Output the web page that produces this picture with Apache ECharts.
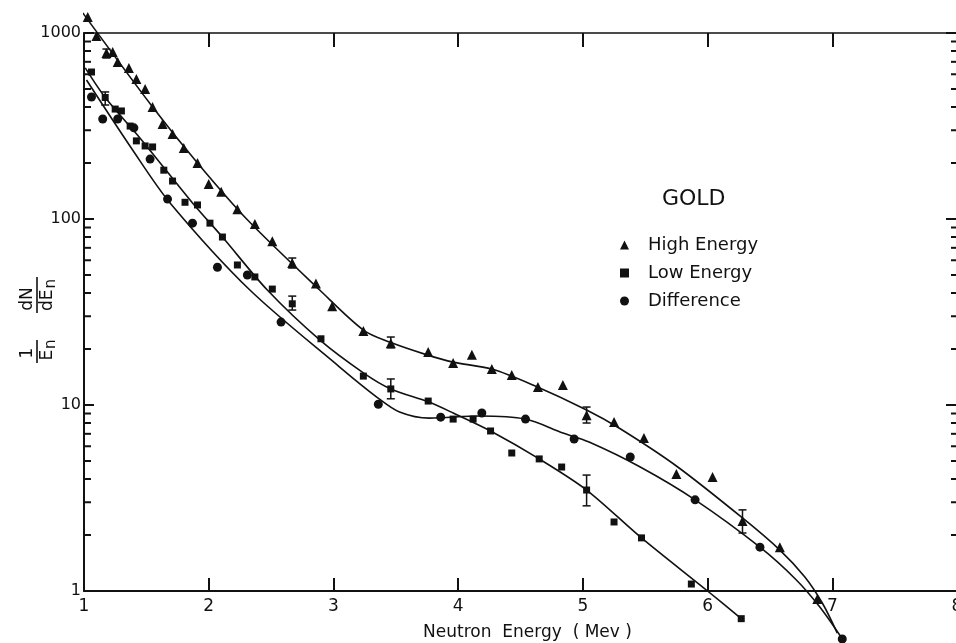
<!DOCTYPE html>
<html>
<head>
<meta charset="utf-8">
<script src="https://cdn.jsdelivr.net/npm/echarts@6/dist/echarts.min.js"></script>
<style>
html,body{margin:0;padding:0;background:#fff;}
#chart{width:956px;height:643px;}
</style>
</head>
<body>
<div id="chart"></div>
<script>
// ---- data ----
const xTicks = [1, 2, 3, 4, 5, 6, 7, 8];
const yMajorTicks = [1, 10, 100, 1000];
const yMinorTicks = [2,3,4,5,6,7,8,9,20,30,40,50,60,70,80,90,200,300,400,500,600,700,800,900];

const highEnergy = [[1.03,1219],[1.10,964],[1.18,780],[1.23,790],[1.27,698],[1.36,649],[1.42,566],[1.49,500],[1.55,400],[1.63,324],[1.71,286],[1.80,241],[1.91,200],[2.00,154],[2.10,140],[2.23,113],[2.37,94],[2.51,76],[2.67,58],[2.86,45],[2.99,34],[3.24,25],[3.46,21.5],[3.76,19.3],[3.96,16.8],[4.11,18.6],[4.27,15.6],[4.43,14.5],[4.64,12.5],[4.84,12.8],[5.03,8.8],[5.25,8.1],[5.49,6.65],[5.75,4.26],[6.04,4.1],[6.28,2.38],[6.58,1.72],[6.88,0.906]];
const lowEnergy = [[1.06,617],[1.17,450],[1.25,390],[1.30,381],[1.37,316],[1.42,263],[1.49,247],[1.55,244],[1.64,183],[1.71,160],[1.81,123],[1.91,119],[2.01,95],[2.11,80],[2.23,56.6],[2.37,48.8],[2.51,42],[2.67,35],[2.90,22.7],[3.24,14.3],[3.46,12.2],[3.76,10.5],[3.96,8.4],[4.12,8.4],[4.26,7.25],[4.43,5.52],[4.65,5.13],[4.83,4.64],[5.03,3.49],[5.25,2.35],[5.47,1.93],[5.87,1.09],[6.27,0.71]];
const difference = [[1.06,453],[1.15,345],[1.27,345],[1.40,309],[1.53,210],[1.67,128],[1.87,95],[2.07,55],[2.31,50],[2.58,27.9],[3.36,10.1],[3.86,8.6],[4.19,9.06],[4.54,8.4],[4.93,6.56],[5.38,5.25],[5.90,3.09],[6.42,1.72],[7.08,0.552]];

// error bars: [x, low, high]
const errorBars = [[1.18,734,820],[1.17,410,482],[2.67,54.5,61.7],[2.67,32.4,38.5],[3.46,20.3,23.2],[3.46,10.8,13.8],[5.03,8.0,9.75],[5.03,2.87,4.2],[6.28,2.05,2.73]];

// fitted curves
const highCurve = [[0.99,1282],[1.55,400],[1.91,200],[2.31,99],[2.89,41.5],[3.24,25.3],[3.45,21.8],[3.75,18.6],[3.96,17.0],[4.27,15.6],[4.60,12.8],[5.03,9.4],[5.29,7.52],[5.75,4.7],[6.28,2.47],[6.58,1.66],[6.78,1.19],[6.92,0.862],[7.04,0.594]];
const lowCurve = [[1.01,649],[1.17,450],[1.45,272],[1.87,122],[2.11,80],[2.47,41.5],[2.89,22.4],[3.24,14.9],[3.46,12.2],[3.76,10.4],[3.96,9.06],[4.26,7.25],[4.65,5.13],[5.03,3.49],[5.47,1.93],[6.0,1.0],[6.27,0.71]];
const diffCurve = [[1.02,559],[1.39,235],[1.69,122],[2.33,41.5],[3.05,16],[3.35,11.0],[3.53,9.17],[3.77,8.5],[4.17,8.73],[4.54,8.4],[4.84,7.07],[5.05,6.32],[5.46,4.64],[5.90,3.09],[6.42,1.72],[6.71,1.15],[6.90,0.82],[7.07,0.566]];

const seriesNames = ['High Energy', 'Low Energy', 'Difference'];
const titleText = 'GOLD';
const xName = 'Neutron  Energy  ( Mev )';

// ---- chart ----
const INK = '#111';
const FONT = 'DejaVu Sans';
const chart = echarts.init(document.getElementById('chart'), null, {renderer: 'canvas'});

const curveStyle = {color: INK, width: 1.6};
function curveSeries(name, data) {
  return {
    name: name, type: 'line', data: data, smooth: 0.3,
    showSymbol: false, symbol: 'none', clip: false, silent: true,
    lineStyle: curveStyle, itemStyle: {color: INK}, z: 3
  };
}

const option = {
  backgroundColor: '#ffffff',
  animation: false,
  textStyle: {fontFamily: FONT, color: INK},
  title: {
    text: titleText, left: 662, top: 188, padding: 0,
    textStyle: {fontFamily: FONT, fontSize: 22, fontWeight: 'normal', color: INK}
  },
  legend: {
    data: [
      {name: seriesNames[0], icon: 'triangle'},
      {name: seriesNames[1], icon: 'rect'},
      {name: seriesNames[2], icon: 'circle'}
    ],
    orient: 'vertical', left: 620, top: 236, padding: 0,
    itemWidth: 9, itemHeight: 9, itemGap: 10, selectedMode: false,
    itemStyle: {color: INK, opacity: 1},
    textStyle: {fontFamily: FONT, fontSize: 18, lineHeight: 18, color: INK, padding: [0, 0, 0, 14]}
  },
  grid: {left: 84, top: 33, width: 873, height: 558, containLabel: false, outerBoundsMode: 'none'},
  xAxis: [{
    type: 'value', min: xTicks[0], max: xTicks[xTicks.length - 1], interval: 1, position: 'bottom',
    name: xName, nameLocation: 'middle', nameGap: 33,
    nameTextStyle: {fontFamily: FONT, fontSize: 17, color: INK, padding: [0, 0, 0, 14]},
    axisLine: {show: true, lineStyle: {color: INK, width: 2}},
    axisTick: {show: true, inside: true, length: 13, lineStyle: {color: INK, width: 2}},
    axisLabel: {show: true, margin: 7, fontFamily: FONT, fontSize: 17, color: INK},
    splitLine: {show: false}
  }, {
    type: 'value', min: xTicks[0], max: xTicks[xTicks.length - 1], interval: 1, position: 'top',
    axisLine: {show: true, lineStyle: {color: INK, width: 1.6}},
    axisTick: {show: true, inside: true, length: 14, lineStyle: {color: INK, width: 2}},
    axisLabel: {show: false}, splitLine: {show: false}
  }],
  yAxis: [{
    type: 'log', logBase: 10, min: yMajorTicks[0], max: yMajorTicks[yMajorTicks.length - 1], position: 'left',
    axisLine: {show: true, lineStyle: {color: INK, width: 2}},
    axisTick: {show: true, inside: true, length: 10, lineStyle: {color: INK, width: 2}},
    axisLabel: {show: true, margin: 3, fontFamily: FONT, fontSize: 16, color: INK,
      formatter: function (v) { return String(Math.round(v)); }},
    splitLine: {show: false}
  }, {
    type: 'log', logBase: 10, min: yMajorTicks[0], max: yMajorTicks[yMajorTicks.length - 1], position: 'right',
    axisLine: {show: false},
    axisTick: {show: true, inside: true, length: 11, lineStyle: {color: INK, width: 2}},
    axisLabel: {show: false}, splitLine: {show: false}
  }],
  graphic: [{
    type: 'group', x: 37, y: 318, rotation: Math.PI / 2, silent: true,
    children: [
      {type: 'text', x: -35, y: -9, style: {text: '1', fontFamily: FONT, fontSize: 17, fill: INK, align: 'center', verticalAlign: 'middle'}},
      {type: 'line', shape: {x1: -45, y1: 0, x2: -22, y2: 0}, style: {stroke: INK, lineWidth: 1.6}},
      {type: 'text', x: -32, y: 11, style: {text: 'E{s|n}', fontFamily: FONT, fontSize: 17, fill: INK, align: 'center', verticalAlign: 'middle',
        rich: {s: {fontFamily: FONT, fontSize: 15, fill: INK, padding: [7, 0, 0, 1]}}}},
      {type: 'text', x: 19, y: -9, style: {text: 'dN', fontFamily: FONT, fontSize: 17, fill: INK, align: 'center', verticalAlign: 'middle'}},
      {type: 'line', shape: {x1: 5, y1: 0, x2: 41, y2: 0}, style: {stroke: INK, lineWidth: 1.6}},
      {type: 'text', x: 23, y: 11, style: {text: 'dE{s|n}', fontFamily: FONT, fontSize: 17, fill: INK, align: 'center', verticalAlign: 'middle',
        rich: {s: {fontFamily: FONT, fontSize: 15, fill: INK, padding: [7, 0, 0, 1]}}}}
    ]
  }],
  series: [
    curveSeries('highCurve', highCurve),
    curveSeries('lowCurve', lowCurve),
    curveSeries('diffCurve', diffCurve),
    {
      name: seriesNames[0], type: 'scatter', data: highEnergy, symbol: 'triangle', symbolSize: 10,
      itemStyle: {color: INK, opacity: 1}, clip: false, z: 4
    },
    {
      name: seriesNames[1], type: 'scatter', data: lowEnergy, symbol: 'rect', symbolSize: 7,
      itemStyle: {color: INK, opacity: 1}, clip: false, z: 4
    },
    {
      name: seriesNames[2], type: 'scatter', data: difference, symbol: 'circle', symbolSize: 9,
      itemStyle: {color: INK, opacity: 1}, clip: false, z: 4
    },
    {
      name: 'errorBars', type: 'custom', data: errorBars, clip: false, silent: true, z: 5,
      encode: {x: 0, y: [1, 2]},
      renderItem: function (params, api) {
        const x = api.value(0), lo = api.value(1), hi = api.value(2);
        const a = api.coord([x, hi]), b = api.coord([x, lo]);
        const w = 4;
        const st = {stroke: INK, lineWidth: 1.5};
        return {type: 'group', children: [
          {type: 'line', shape: {x1: a[0], y1: a[1], x2: b[0], y2: b[1]}, style: st},
          {type: 'line', shape: {x1: a[0] - w, y1: a[1], x2: a[0] + w, y2: a[1]}, style: st},
          {type: 'line', shape: {x1: b[0] - w, y1: b[1], x2: b[0] + w, y2: b[1]}, style: st}
        ]};
      }
    },
    {
      name: 'minorTicks', type: 'custom', data: yMinorTicks.map(function (v) { return [xTicks[0], v]; }),
      clip: false, silent: true, z: 5, encode: {x: 0, y: 1},
      renderItem: function (params, api) {
        const v = api.value(1);
        const pl = api.coord([xTicks[0], v]);
        const pr = api.coord([xTicks[xTicks.length - 1], v]);
        const st = {stroke: INK, lineWidth: 2};
        return {type: 'group', children: [
          {type: 'line', shape: {x1: pl[0], y1: pl[1], x2: pl[0] + 7, y2: pl[1]}, style: st},
          {type: 'line', shape: {x1: pr[0] - 6, y1: pr[1], x2: pr[0], y2: pr[1]}, style: st}
        ]};
      }
    }
  ]
};
chart.setOption(option);
</script>
</body>
</html>
